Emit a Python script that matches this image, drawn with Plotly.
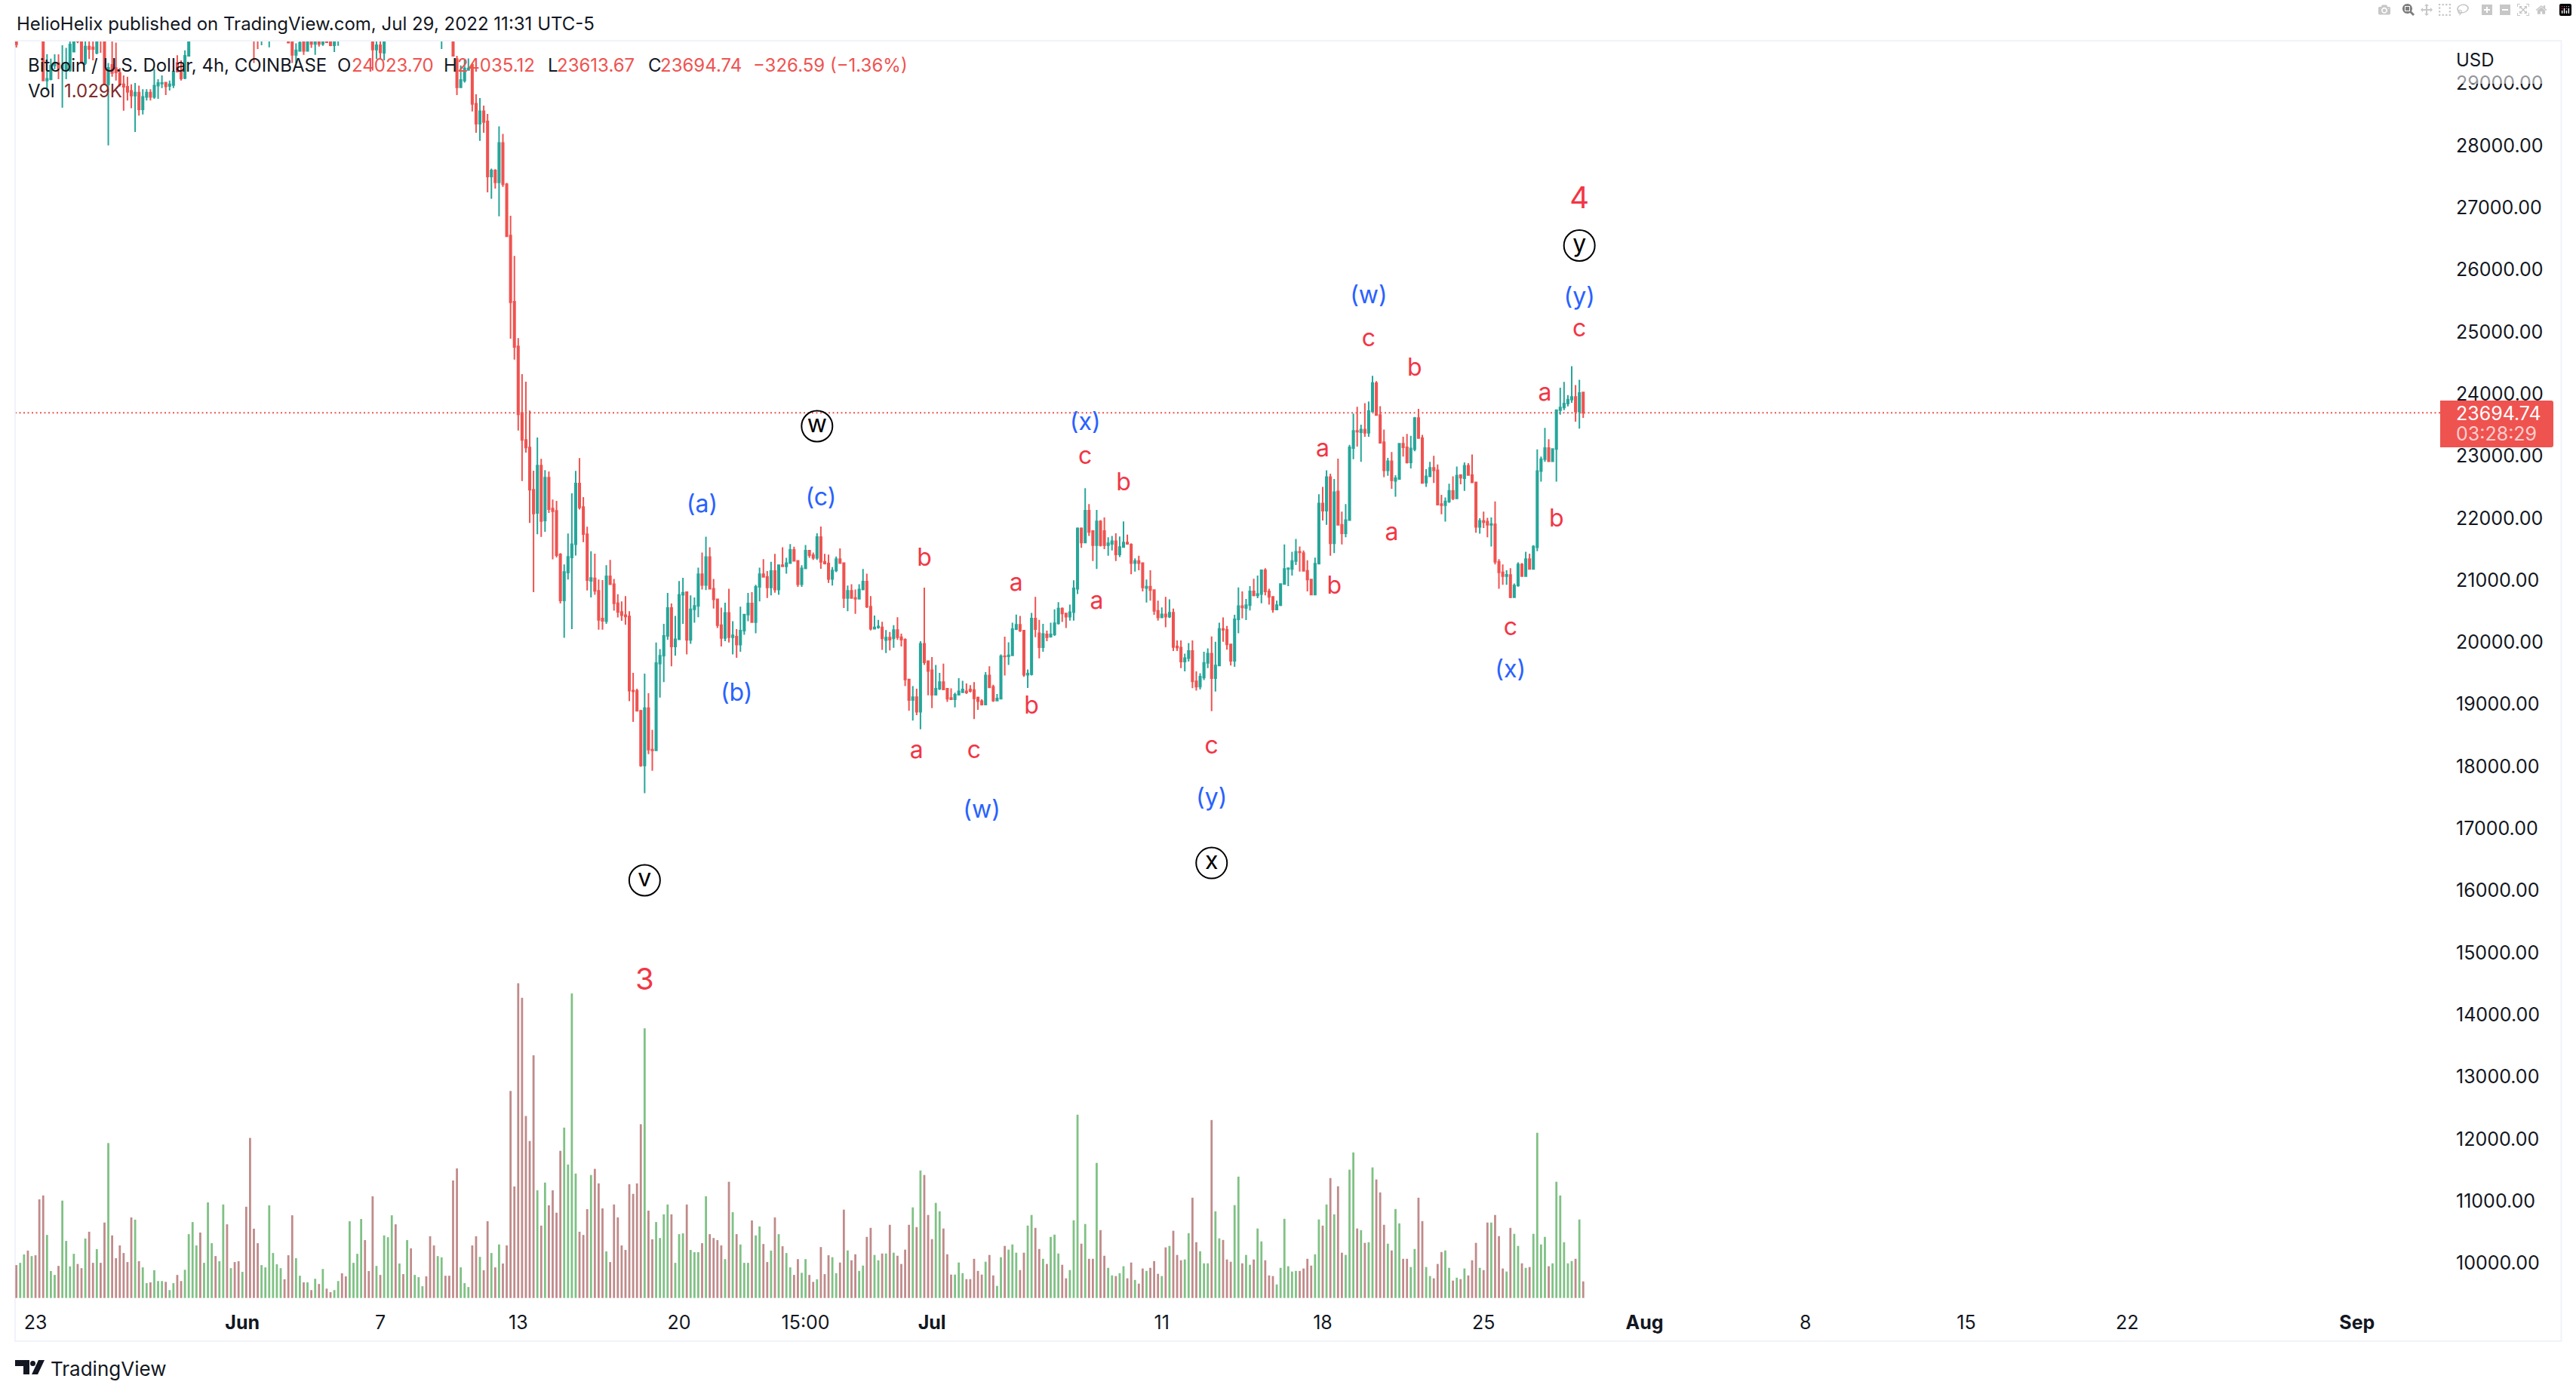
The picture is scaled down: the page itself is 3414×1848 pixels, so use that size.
import pandas as pd
import plotly.graph_objects as go

W, H = 3414, 1848
FONT = "Inter"

bar_open = [
    30100,29800,30100,30280,30120,30300,30150,30000,29048,29070,
    29291,29330,29250,29210,29210,29514,29900,29800,29332,29595,
    29583,29494,29800,29800,28988,29300,29250,29170,28988,28947,
    28880,28806,28854,28583,28785,28854,28785,28967,29000,29016,
    28960,28976,29332,29210,29089,29445,29800,30050,30300,30150,
    30350,31000,31300,31100,31400,31700,31400,31600,31500,31400,
    31600,31200,30200,29900,29780,29950,30100,30300,30500,30650,
    30800,30450,29900,29462,29526,29750,29526,29750,29636,29750,
    29636,29800,29800,29616,29700,29980,29800,29760,30200,30500,
    30650,31000,30500,30150,29547,29615,29494,29800,30100,30300,
    30100,30250,30150,30400,30200,30350,30450,30500,30300,30100,
    29950,30100,30150,30050,29950,29393,28939,29049,29219,29300,
    28676,28352,28554,28388,27501,27599,27408,28044,27376,26550,
    25485,24764,23695,23257,23136,22456,22083,22844,21962,22650,
    22152,22116,21415,20674,21123,21366,21577,22557,22176,21739,
    20990,21028,20828,20380,20338,21062,20934,20627,20487,20436,
    20414,19221,19217,18897,18015,18940,18270,18258,19656,19784,
    20103,20551,19933,20048,20764,20806,20039,20530,20585,21096,
    20922,21373,20862,20691,20274,20069,20474,20082,20090,19963,
    20188,20444,20623,20325,20892,21096,21054,20883,21147,20849,
    21241,21224,21275,21488,21310,20934,21190,21476,21403,21360,
    21693,21297,21267,21020,21156,21339,21275,20713,20828,20713,
    20700,20849,20977,20572,20218,20240,20240,20034,20074,20061,
    20197,20082,20040,19400,19068,19115,18880,19975,19696,19549,
    19153,19250,19357,19250,19102,19080,19153,19195,19208,19238,
    19229,19110,19051,18995,19464,19281,19060,19089,19775,19775,
    19790,20210,20282,20188,19477,19485,20380,20146,19920,20125,
    20090,20125,20304,20541,20464,20413,20485,20860,21832,21606,
    22118,21790,21564,21947,21790,21564,21585,21628,21414,21534,
    21606,21572,21274,21308,21274,20873,20895,20839,20507,20400,
    20447,20413,20477,19931,19914,19688,19744,19859,19369,19284,
    19432,19667,19816,19420,19624,20213,20200,19965,19701,20370,
    20583,20553,20596,20818,20754,20775,21159,20818,20732,20528,
    20596,20937,21180,21180,21308,21457,21436,21150,21010,20767,
    21265,22233,22118,22659,21594,22429,21892,21755,21968,23128,
    23405,23384,23426,23375,23716,24172,23660,23222,22770,22915,
    22600,22629,23196,23141,22898,23110,23610,23290,22573,22672,
    22808,22770,22224,22207,22267,22437,22318,22693,22642,22842,
    22693,22574,21858,21955,21943,21892,21900,21295,21125,21065,
    21082,20724,20912,21252,21065,21338,21180,21530,22757,22949,
    23128,22915,23111,23737,23780,23844,23908,23950,23716,24023.7,
]
bar_high = [
    30300,30250,30350,30400,30420,30380,30250,30150,29474,29400,
    29470,29470,29616,29575,29700,29950,30000,30000,29800,29900,
    29800,29950,29950,29900,29330,29676,29660,29250,29130,29110,
    28988,29008,28967,28907,28907,28907,29231,29069,29130,29028,
    29048,29210,29454,29372,29535,29950,30200,30400,30450,30500,
    31200,31500,31500,31600,31900,31800,31750,31700,31650,31750,
    31800,31300,30350,30050,30100,30250,30450,30650,30800,30900,
    30950,30500,30000,29648,29700,29850,29850,29850,29800,29850,
    29850,29900,29900,29900,30050,30100,29950,30350,30650,30800,
    31200,31100,30600,30250,29800,29800,29950,30200,30450,30400,
    30350,30350,30500,30500,30450,30550,30600,30600,30400,30200,
    30200,30250,30250,30150,30050,29445,29292,29393,29405,29332,
    28826,28765,28644,28510,27631,27620,28311,28190,27400,26870,
    26222,24898,24319,24197,23731,22763,23298,22954,22771,22751,
    22298,22277,21435,21253,21751,22399,22759,22966,22338,21860,
    21467,21425,21011,21000,21241,21326,21020,20772,20657,20743,
    20500,19506,19251,18910,19494,19178,18590,19997,19890,20295,
    20794,20623,20423,20985,21037,20806,20755,20721,21203,21446,
    21701,21531,21020,20700,20559,20636,20862,20338,20210,20572,
    20444,20794,20806,20926,21203,21339,21147,21297,21424,21241,
    21531,21360,21582,21540,21310,21241,21565,21480,21446,21753,
    21863,21424,21412,21211,21382,21510,21284,20913,20934,20849,
    20934,21181,21105,20743,20431,20359,20329,20197,20167,20274,
    20402,20137,20061,19409,19293,19251,20018,20879,19707,19762,
    19634,19506,19656,19250,19258,19187,19421,19379,19336,19310,
    19357,19123,19080,19519,19613,19315,19165,19805,20090,20000,
    20316,20444,20423,20188,19562,20474,20730,20359,20295,20188,
    20316,20529,20647,20562,20477,20605,20997,21849,21849,22480,
    22224,21807,22130,21968,22011,21692,21713,21755,21704,21947,
    21734,21593,21351,21393,21287,21010,21159,20839,20669,20562,
    20732,20690,20541,20029,20029,19816,19987,20029,19531,19500,
    19846,19901,20093,20008,20315,20400,20264,19965,20443,20882,
    20818,20698,20903,21022,21073,21159,21193,20860,20732,20669,
    20945,21576,21200,21457,21662,21542,21478,21321,21010,21363,
    22382,22501,22770,22714,22629,22957,22105,22224,23180,23682,
    23793,23503,23852,23878,24290,24206,23801,23426,22970,23064,
    22690,23204,23311,23354,23324,23630,23759,23341,22787,22906,
    23004,22863,22373,22331,22552,22672,22830,22702,22898,22885,
    23025,22586,21998,22105,22003,22011,22267,21338,21252,21159,
    21193,20945,21286,21274,21457,21427,21564,23106,22991,23452,
    23269,23120,23737,24100,24193,23980,24445,24142,24227,24035.12,
]
bar_low = [
    29580,29760,30000,30050,30080,30050,29950,29048,28887,29050,
    29230,29070,28611,29069,29190,29514,29650,29320,29300,29393,
    29372,29470,29494,28988,28004,29110,29048,28950,28562,28725,
    28603,28218,28482,28502,28725,28725,28753,28753,28927,28814,
    28886,28927,29190,29048,29069,29440,29750,29950,30050,30100,
    30300,30900,31000,31050,31300,31300,31300,31400,31300,31350,
    31100,30100,29332,29555,29615,29850,29583,30200,30400,30550,
    30300,29660,29332,29332,29514,29462,29514,29575,29462,29595,
    29607,29660,29600,29506,29607,29760,29720,29720,30100,30400,
    30550,30400,30000,29210,29393,29393,29372,29750,30000,30000,
    30000,30050,30100,30100,30100,30250,30350,30200,30000,29800,
    29850,29555,29950,29850,29440,28814,28927,29016,29210,28550,
    28206,28077,28206,27246,27145,27307,26862,27335,26530,24890,
    24553,23411,22597,23055,21921,20807,21739,21698,21779,22083,
    21334,21366,20625,20073,21010,20210,21395,22136,21613,20835,
    20721,20764,20201,20201,20295,20934,20508,20401,20346,20282,
    19050,18718,18897,17993,17567,18198,17930,18249,19110,19357,
    20039,19613,19783,20039,20295,19805,19975,20316,20402,20849,
    20841,20849,20542,20231,19933,20018,19997,19805,19750,19848,
    20120,20338,20316,20146,20657,21041,20713,20755,20798,20764,
    21224,21105,21283,21310,20892,20892,21190,21360,21326,21326,
    21182,21254,20956,20913,21130,21275,20551,20500,20713,20457,
    20700,20849,20551,20189,20210,20218,19877,19826,19869,19911,
    20039,19933,19293,18897,18739,18825,18599,19634,19144,18940,
    19153,19229,19229,19038,19080,18952,19153,19195,19165,19190,
    18761,18910,18982,18995,19272,19038,19050,19080,19464,19634,
    19783,20197,20167,19443,19264,19464,20082,19741,19848,20018,
    20074,20103,20285,20328,20230,20349,20349,20775,21521,21593,
    21713,21308,21180,21542,21500,21393,21478,21308,21372,21521,
    21576,21095,21137,21159,20818,20639,20669,20443,20349,20400,
    20243,20392,19859,19859,19582,19531,19688,19262,19220,19240,
    19390,19582,18891,19207,19624,20008,19880,19624,19603,20144,
    20383,20357,20511,20741,20711,20626,20754,20605,20477,20528,
    20583,20925,20903,21073,21244,21137,21137,20818,20754,20754,
    21252,21960,21892,21393,21436,21883,21576,21692,21960,22949,
    23153,22906,23311,23311,23716,23652,23213,22659,22680,22471,
    22344,22629,22991,22880,22800,23077,23290,22557,22501,22672,
    22565,22203,22062,21943,22245,22288,22310,22544,22437,22693,
    22565,21764,21747,21840,21692,21542,21252,20860,20924,20924,
    20711,20724,20894,21065,21052,21180,21180,21466,22586,22906,
    22906,22906,22586,23665,23737,23800,23857,23554,23439,23613.67,
]
bar_close = [
    29630,30100,30280,30120,30300,30150,30000,29048,29075,29291,
    29330,29250,29290,29332,29627,29800,29680,29332,29595,29555,
    29555,29800,29700,28988,29251,29170,29180,28988,28947,28866,
    28806,28854,28583,28785,28854,28785,28967,29008,29008,28955,
    28988,29190,29190,29081,29445,29800,30050,30300,30150,30350,
    31000,31300,31100,31400,31700,31400,31600,31500,31400,31600,
    31200,30200,29900,29800,29950,30100,30300,30500,30650,30800,
    30450,29660,29462,29535,29656,29526,29750,29636,29750,29636,
    29750,29665,29616,29800,29900,29800,29760,30200,30500,30650,
    31000,30500,30150,29547,29615,29502,29800,30100,30300,30100,
    30250,30150,30400,30200,30350,30450,30500,30300,30100,29950,
    30100,30150,30050,29950,29445,28939,29057,29243,29243,28672,
    28352,28554,28380,27501,27599,27408,28044,27376,26538,25477,
    24756,23671,23257,23136,22456,22075,22844,21953,22650,22144,
    22111,21403,20674,21131,21374,21577,22557,22172,21743,21002,
    21035,20828,20359,20346,21062,20934,20627,20487,20436,20414,
    19221,19208,18897,18015,18940,18270,18258,19664,19784,20103,
    20551,19933,20048,20764,20798,20039,20530,20585,21096,20922,
    21373,20862,20691,20274,20069,20474,20082,20111,19963,20188,
    20444,20623,20325,20892,21096,21054,20883,21147,20849,21241,
    21224,21275,21488,21310,20934,21190,21476,21403,21360,21693,
    21297,21267,21020,21156,21339,21275,20713,20828,20713,20700,
    20849,20977,20572,20218,20240,20253,20061,20074,20040,20197,
    20082,20040,19400,19068,19115,18880,19975,19677,19536,19153,
    19250,19357,19238,19089,19080,19153,19208,19238,19190,19216,
    19093,19051,18995,19464,19272,19060,19093,19775,19770,19790,
    20210,20282,20188,19477,19494,20380,20210,19920,20133,20082,
    20125,20304,20541,20464,20413,20485,20869,21832,21606,22118,
    21777,21564,21947,21564,21564,21594,21628,21414,21534,21606,
    21585,21274,21308,21274,20882,20895,20839,20507,20400,20447,
    20413,20477,19923,19914,19688,19744,19859,19369,19284,19446,
    19667,19816,19420,19624,20213,20200,19965,19701,20370,20583,
    20562,20596,20818,20754,20775,21159,20818,20732,20528,20596,
    20937,21180,21192,21308,21457,21449,21150,21010,20767,21265,
    22233,22118,22659,21594,22416,21892,21755,21968,23141,23405,
    23392,23426,23375,23724,24176,23660,23213,22770,22915,22608,
    22642,23196,23141,22898,23120,23610,23290,22565,22672,22808,
    22770,22216,22207,22267,22437,22318,22684,22650,22842,22693,
    22574,21858,21955,21934,21892,21904,21295,21125,21065,21086,
    20724,20912,21252,21065,21338,21180,21542,22757,22949,23128,
    22915,23111,23737,23780,23844,23908,23950,23716,24014,23694.74,
]
volume = [
    2040,2180,2700,2940,2600,2650,6120,6360,3910,1670,1430,1990,6040,3540,1960,2740,2110,1850,3690,4110,
    2180,3030,2180,4680,9610,3880,2470,3260,2790,2230,5000,4860,2280,1900,920,970,1720,1050,1050,1000,
    490,920,1430,1050,1750,3960,4710,3260,4060,2180,5930,3400,2600,2280,5800,4570,1850,2230,2280,1620,
    5660,9930,4300,3400,2040,1900,5750,2790,2090,1850,1160,2650,5130,2470,1380,970,970,490,1190,870,
    1800,580,360,490,1050,1530,1340,4760,2180,2740,4900,3590,1670,6310,1990,1430,3880,3770,5130,4570,
    2140,1480,3590,3080,1430,1290,730,1340,3830,3260,2600,2520,1380,1380,7290,8040,1900,920,680,3260,
    3830,2550,1720,4760,2790,1900,3320,2140,3260,12840,6920,19520,18620,11290,9740,15050,6680,4490,7160,5750,
    6680,5290,9130,10570,8280,18890,7720,4110,3910,5510,7630,8010,7110,5560,2890,2230,5800,5000,3260,2980,
    7060,6460,7110,10780,16730,5420,3640,4710,3720,5190,5800,5190,2180,3960,4010,5800,2980,2840,2840,3400,
    6310,3960,3720,3590,3260,2410,7210,5320,3960,3320,2180,2180,4810,3880,4440,3350,2230,2940,5000,3960,
    3210,2790,1900,1430,2410,1560,2410,1430,1000,1160,3160,1480,2650,
    2530,1540,2200,5480,2950,2340,2710,1680,2010,3790,4350,2670,2340,2760,2760,4540,2810,2620,2110,3000,
    4540,5620,4400,7910,7630,5150,3650,5900,5380,4310,2710,1450,1450,2200,1540,1170,1170,2430,1680,1450,
    2250,2670,1400,750,2530,3230,3000,3320,2810,1730,2810,4490,5150,4350,3040,2430,2110,3790,3930,2760,
    2060,1220,1730,4820,11370,3370,4590,2430,2430,8380,4210,2620,1870,1400,1360,1540,1970,1220,2200,1120,
    890,1830,1680,1870,2290,1500,1360,3140,3230,4170,2670,2340,2390,4020,6220,3460,2900,2150,2150,11040,
    5380,3700,3600,2390,2250,5760,7530,2150,2670,2060,2390,4310,3510,2340,1400,1360,840,1870,4910,1970,
    1640,1680,1680,1830,2430,2010,2710,4870,4490,5800,7440,5190,6930,2810,2670,7960,9030,4310,4210,3420,
    3460,8100,7350,6550,4540,3370,2950,5520,4630,2430,2430,1920,3040,6220,4770,1920,1360,1220,2110,2850,
    2950,1870,1080,1260,1170,1830,1400,2340,3420,1870,1730,4680,4680,5150,3840,1830,1640,4350,3980,3230,
    2150,1870,1920,3980,10250,3320,3790,1970,2150,7210,6360,3460,2150,2290,2430,4870,1029,
]

bar_time = pd.date_range("2022-05-22 07:00", periods=len(bar_close), freq="4h")

price_ticks = list(range(10000, 30000, 1000))
tick_times = ["2022-05-23 03:00", "2022-06-01 03:00", "2022-06-07 03:00", "2022-06-13 03:00",
              "2022-06-20 03:00", "2022-06-25 15:00", "2022-07-01 03:00", "2022-07-11 03:00",
              "2022-07-18 03:00", "2022-07-25 03:00", "2022-08-01 03:00", "2022-08-08 03:00",
              "2022-08-15 03:00", "2022-08-22 03:00", "2022-09-01 03:00"]
tick_text = ["23", "<b>Jun</b>", "7", "13", "20", "15:00", "<b>Jul</b>", "11", "18", "25",
             "<b>Aug</b>", "8", "15", "22", "<b>Sep</b>"]

# wave labels: text, bar number, price
minor_text = ["b", "a", "c", "a", "b", "c", "b", "a", "c", "a", "b", "c", "b", "a", "c", "b", "a", "c"]
minor_bar = [237, 235, 250, 261, 265, 279, 289, 282, 312, 341, 344, 353, 365, 359, 390, 402, 399, 408]
minor_price = [21324, 18229, 18229, 20927, 18943, 22964, 22541, 20636, 18308, 23096, 20874, 24869,
               24393, 21747, 20213, 21959, 23996, 25028]
blue_text = ["(a)", "(c)", "(b)", "(x)", "(w)", "(y)", "(w)", "(y)", "(x)"]
blue_bar = [179, 210, 188, 279, 252, 312, 353, 408, 390]
blue_price = [22197, 22302, 19154, 23520, 17276, 17461, 25557, 25530, 19525]
circle_text = ["w", "y", "v", "x"]
circle_bar = [209, 408, 164, 312]
circle_price = [23480, 26390, 16165, 16443]
major_text = ["3", "4"]
major_bar = [164, 408]
major_price = [14525, 27117]

TEAL = "#26A69A"
RED = "#EF5350"
LABEL_RED = "#F23645"
BLUE = "#2962FF"
INK = "#131722"


def px_x(v):
    return v / W


def px_y(v):
    return 1 - v / H


def times(bars):
    return [bar_time[b] for b in bars]


vol_colors = ["#7FC184" if c >= o else "#C08A8A" for o, c in zip(bar_open, bar_close)]

fig = go.Figure()
fig.add_bar(x=bar_time, y=volume, yaxis="y2", marker=dict(color=vol_colors, line=dict(width=0)),
            showlegend=False)
fig.add_candlestick(
    x=bar_time, open=bar_open, high=bar_high, low=bar_low, close=bar_close,
    increasing=dict(line=dict(color=TEAL, width=2), fillcolor=TEAL),
    decreasing=dict(line=dict(color=RED, width=2), fillcolor=RED),
    whiskerwidth=0, showlegend=False,
)
fig.add_scatter(x=times(minor_bar), y=minor_price, mode="text", text=minor_text,
                textfont=dict(family=FONT, size=32, color=LABEL_RED), showlegend=False)
fig.add_scatter(x=times(blue_bar), y=blue_price, mode="text", text=blue_text,
                textfont=dict(family=FONT, size=32, color=BLUE), showlegend=False)
fig.add_scatter(x=times(major_bar), y=major_price, mode="text", text=major_text,
                textfont=dict(family=FONT, size=40, color=LABEL_RED), showlegend=False)
fig.add_scatter(x=times(circle_bar), y=circle_price, mode="markers+text", text=circle_text,
                textposition="middle center",
                marker=dict(size=41, color="rgba(255,255,255,0)", line=dict(color="#000000", width=2)),
                textfont=dict(family=FONT, size=32, color="#000000"), showlegend=False)

# last price line behind the candles
fig.add_shape(type="line", xref="paper", yref="y", x0=px_x(20), x1=px_x(3234),
              y0=bar_close[-1], y1=bar_close[-1], layer="below",
              line=dict(color=RED, width=2, dash="2px,3.5px"))
# pane border
fig.add_shape(type="rect", xref="paper", yref="paper", x0=px_x(20), x1=px_x(3394.5),
              y0=px_y(1778), y1=px_y(54), layer="below", line=dict(color="#F0F3FA", width=2))
# price badge
fig.add_shape(type="path", xref="paper", yref="paper", layer="above", line=dict(width=0), fillcolor=RED,
              path=f"M {px_x(3234)} {px_y(531)} L {px_x(3381)} {px_y(531)} Q {px_x(3384)} {px_y(531)} {px_x(3384)} {px_y(534)} "
                   f"L {px_x(3384)} {px_y(590)} Q {px_x(3384)} {px_y(593)} {px_x(3381)} {px_y(593)} L {px_x(3234)} {px_y(593)} Z")
# top label fades out under the USD caption
fig.add_shape(type="rect", xref="paper", yref="paper", x0=px_x(3250), x1=px_x(3380), y0=px_y(111), y1=px_y(98),
              layer="above", line=dict(width=0), fillcolor="rgba(255,255,255,0.55)")
# TradingView mark
fig.add_shape(type="path", xref="paper", yref="paper", line=dict(width=0), fillcolor=INK,
              path=f"M {px_x(20)} {px_y(1803)} L {px_x(39)} {px_y(1803)} L {px_x(39)} {px_y(1822)} L {px_x(31)} {px_y(1822)} "
                   f"L {px_x(31)} {px_y(1811)} L {px_x(20)} {px_y(1811)} Z")
fig.add_shape(type="path", xref="paper", yref="paper", line=dict(width=0), fillcolor=INK,
              path=f"M {px_x(51)} {px_y(1803)} L {px_x(59)} {px_y(1803)} L {px_x(50)} {px_y(1822)} L {px_x(42)} {px_y(1822)} Z")
fig.add_shape(type="circle", xref="paper", yref="paper", line=dict(width=0), fillcolor=INK,
              x0=px_x(40), x1=px_x(47), y0=px_y(1811), y1=px_y(1804))

# x px, y px, text, size, colour
captions = [
    (22, 32, "HelioHelix published on TradingView.com, Jul 29, 2022 11:31 UTC-5", 24, INK),
    (37, 87, "Bitcoin / U.S. Dollar, 4h, COINBASE", 24, INK),
    (447, 87, "O", 24, INK),
    (466, 87, "24023.70", 24, RED),
    (588, 87, "H", 24, INK),
    (606, 87, "24035.12", 24, RED),
    (726, 87, "L", 24, INK),
    (738, 87, "23613.67", 24, RED),
    (859, 87, "C", 24, INK),
    (875, 87, "23694.74", 24, RED),
    (998, 87, "\u2212326.59 (\u22121.36%)", 24, RED),
    (37, 120, "Vol", 24, INK),
    (85, 120, "1.029K", 24, "#7F2B2B"),
    (3255, 80, "USD", 24, INK),
    (3255, 548, "23694.74", 25, "#FFFFFF"),
    (3255, 575, "03:28:29", 25, "rgba(255,255,255,0.72)"),
    (67, 1814, "TradingView", 26, INK),
]
for cx, cy, txt, size, color in captions:
    fig.add_annotation(xref="paper", yref="paper", x=px_x(cx), y=px_y(cy), text=txt, showarrow=False,
                       xanchor="left", yanchor="middle", xshift=-1, borderpad=0,
                       font=dict(family=FONT, size=size, color=color))

plot_top = px_y(55)
plot_bottom = px_y(1730)
fig.update_layout(
    width=W, height=H, margin=dict(l=0, r=0, t=0, b=0), autosize=False,
    paper_bgcolor="#FFFFFF", plot_bgcolor="rgba(0,0,0,0)",
    boxgap=0.42, bargap=0.45, hovermode=False, showlegend=False,
    font=dict(family=FONT, color=INK),
    xaxis=dict(
        domain=[px_x(20), px_x(3234)], type="date",
        range=["2022-05-22 05:40", "2022-09-04 17:48"],
        rangeslider=dict(visible=False), showgrid=False, zeroline=False, showline=False,
        tickmode="array", tickvals=tick_times, ticktext=tick_text, ticks="",
        tickfont=dict(family=FONT, size=25, color=INK), ticklabelstandoff=6, tickangle=0,
    ),
    yaxis=dict(
        domain=[plot_bottom, plot_top], range=[9324, 29677], side="right", anchor="x",
        showgrid=False, zeroline=False, showline=False, ticks="",
        tickmode="array", tickvals=price_ticks, ticktext=[f"{p}.00" for p in price_ticks],
        tickfont=dict(family=FONT, size=25, color=INK), ticklabelstandoff=20,
    ),
    yaxis2=dict(
        domain=[plot_bottom, plot_top], range=[-435, 77955], overlaying="y", anchor="x",
        visible=False,
    ),
)

# page margin would push the fixed-size figure off by 8px
fig.write_html("out.html", post_script="document.body.style.margin='0';")
